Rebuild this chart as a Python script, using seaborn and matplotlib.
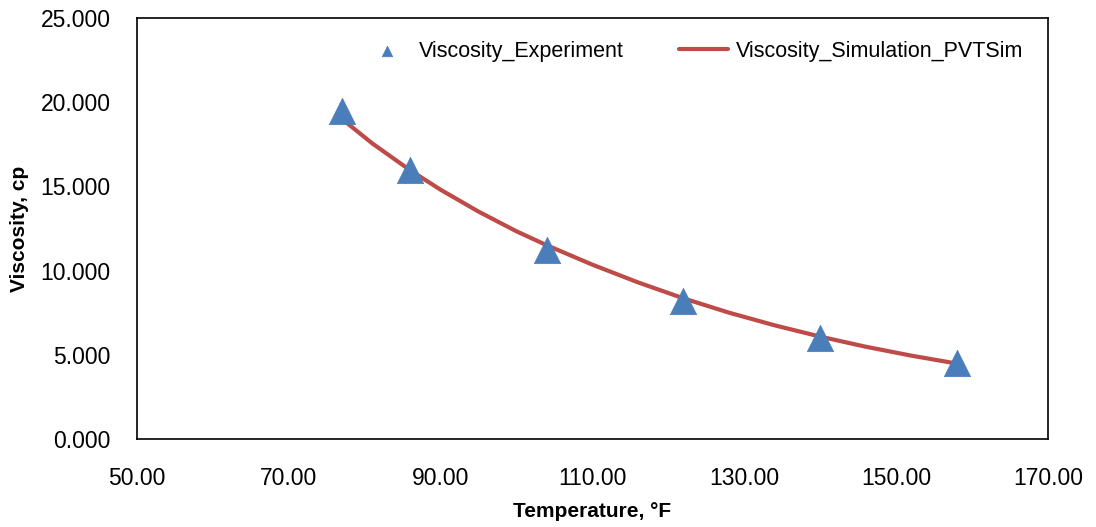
import matplotlib
matplotlib.use("Agg")
import matplotlib.pyplot as plt
import seaborn as sns
import pandas as pd
from matplotlib.ticker import FormatStrFormatter

# Measured viscosity
exp_temp = [77, 86, 104, 122, 140, 158]
exp_visc = [19.5, 16.0, 11.2, 8.2, 6.0, 4.5]

# PVTSim simulated viscosity curve
sim_temp = [77, 81, 86, 90, 95, 100, 104, 110, 116, 122, 128, 134, 140, 146, 152, 158]
sim_visc = [19.0, 17.55, 15.95, 14.8, 13.5, 12.33, 11.5, 10.35, 9.3, 8.35, 7.5, 6.75,
            6.08, 5.48, 4.95, 4.48]

x_ticks = [50, 70, 90, 110, 130, 150, 170]
y_ticks = [0, 5, 10, 15, 20, 25]

sns.set_style("white")
plt.rcParams["font.family"] = ["Liberation Sans", "DejaVu Sans"]
plt.rcParams["text.color"] = "black"
plt.rcParams["axes.labelcolor"] = "black"

exp_df = pd.DataFrame({"T": exp_temp, "V": exp_visc})
sim_df = pd.DataFrame({"T": sim_temp, "V": sim_visc})

fig = plt.figure(figsize=(10.96, 5.27), dpi=100)
ax = fig.add_axes([0.125, 0.167, 0.831, 0.799])

sns.lineplot(data=sim_df, x="T", y="V", ax=ax, color="#BE4B48", linewidth=3.0,
             label="Viscosity_Simulation_PVTSim", zorder=2)
sns.scatterplot(data=exp_df, x="T", y="V", ax=ax, marker="^", s=19**2,
                color="#4A7EBB", edgecolor="#4A7EBB", linewidth=0.5,
                label="Viscosity_Experiment", zorder=3)

ax.set_xlim(50, 170)
ax.set_ylim(0, 25)
ax.set_xticks(x_ticks)
ax.set_yticks(y_ticks)
ax.xaxis.set_major_formatter(FormatStrFormatter("%.2f"))
ax.yaxis.set_major_formatter(FormatStrFormatter("%.3f"))
ax.tick_params(axis="both", direction="in", length=6.5, width=1, labelsize=16.5,
               colors="black")
ax.tick_params(axis="x", pad=20)
ax.tick_params(axis="y", pad=19)
for sp in ax.spines.values():
    sp.set_visible(True)
    sp.set_color("black")
    sp.set_linewidth(1.2)

ax.set_xlabel("Temperature, °F", fontsize=15, fontweight="bold", labelpad=9,
              color="black")
ax.set_ylabel("Viscosity, cp", fontsize=15, fontweight="bold", labelpad=8,
              color="black")

handles, labels = ax.get_legend_handles_labels()
order = [labels.index("Viscosity_Experiment"), labels.index("Viscosity_Simulation_PVTSim")]
leg = ax.legend([handles[i] for i in order], [labels[i] for i in order],
                ncol=2, loc="upper left", bbox_to_anchor=(0.247, 0.946),
                borderaxespad=0, borderpad=0,
                frameon=False, fontsize=15.5, markerscale=0.4,
                handlelength=2.3, columnspacing=2.55, handletextpad=0.35,
                labelcolor="black")

fig.savefig("out.png", dpi=100)
